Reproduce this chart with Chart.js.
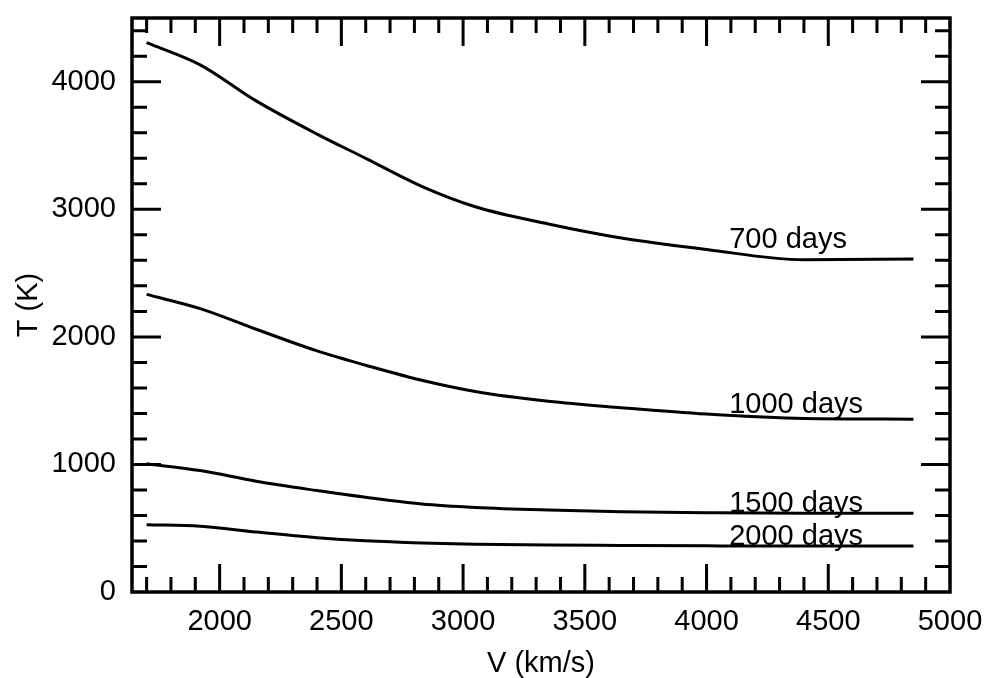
<!DOCTYPE html>
<html>
<head>
<meta charset="utf-8">
<script src="https://cdn.jsdelivr.net/npm/chart.js@4.4.1/dist/chart.umd.min.js"></script>
<style>
  body { margin: 0; background: #fff; }
  canvas { display: block; }
</style>
</head>
<body>
<canvas id="tempChart" width="989" height="678"></canvas>
<script>
// velocities (km/s) shared by all curves
const velocities = [1700, 1920, 2150, 2400, 2600, 2830, 3050, 3350, 3650, 4000, 4400, 4850];
const temp700 = [4307, 4133, 3850, 3590, 3400, 3180, 3020, 2885, 2775, 2685, 2605, 2610];
const temp1000 = [2333, 2222, 2060, 1890, 1778, 1660, 1572, 1495, 1445, 1395, 1360, 1355];
const temp1500 = [1005, 952, 868, 795, 742, 690, 663, 643, 630, 622, 617, 617];
const temp2000 = [528, 515, 470, 426, 401, 384, 375, 368, 365, 362, 360, 360];

const seriesNames = ['700 days', '1000 days', '1500 days', '2000 days'];
const seriesTemps = [temp700, temp1000, temp1500, temp2000];

const xTickLabels = [2000, 2500, 3000, 3500, 4000, 4500, 5000];
const yTickLabels = [0, 1000, 2000, 3000, 4000];

// where the curve names sit (data coords)
const labelV = 4093;
const labelT = [2700, 1400, 625, 365];

const FONT = '"Liberation Sans", Arial, Helvetica, sans-serif';

// inward ticks on all four sides + the box + curve names
const frameTicks = {
  id: 'frameTicks',
  afterDatasetsDraw(chart) {
    const { ctx, chartArea: a, scales: { x, y } } = chart;
    ctx.save();
    ctx.strokeStyle = '#000';
    ctx.lineWidth = 3;
    ctx.beginPath();
    for (let v = 1700; v < 5000; v += 100) {
      const px = x.getPixelForValue(v);
      const len = v % 500 === 0 ? 28 : 15;
      ctx.moveTo(px, a.bottom); ctx.lineTo(px, a.bottom - len);
      ctx.moveTo(px, a.top); ctx.lineTo(px, a.top + len);
    }
    for (let t = 200; t < 4500; t += 200) {
      const py = y.getPixelForValue(t);
      const len = t % 1000 === 0 ? 29 : 15;
      ctx.moveTo(a.left, py); ctx.lineTo(a.left + len, py);
      ctx.moveTo(a.right, py); ctx.lineTo(a.right - len, py);
    }
    ctx.stroke();
    ctx.lineWidth = 3.5;
    ctx.strokeRect(a.left, a.top, a.right - a.left, a.bottom - a.top);

    ctx.font = '29px ' + FONT;
    ctx.fillStyle = '#000';
    ctx.textAlign = 'left';
    ctx.textBaseline = 'alphabetic';
    seriesNames.forEach((name, i) => {
      ctx.fillText(name, x.getPixelForValue(labelV), y.getPixelForValue(labelT[i]));
    });
    ctx.restore();
  }
};

const ctx = document.getElementById('tempChart').getContext('2d');
new Chart(ctx, {
  type: 'scatter',
  data: {
    datasets: seriesNames.map((name, i) => ({
      label: name,
      data: velocities.map((v, j) => ({ x: v, y: seriesTemps[i][j] })),
      showLine: true,
      borderColor: '#000',
      borderWidth: 3,
      pointRadius: 0,
      cubicInterpolationMode: 'monotone'
    }))
  },
  options: {
    responsive: false,
    animation: false,
    layout: { padding: { top: 18, right: 39, left: 0, bottom: 0 } },
    plugins: {
      legend: { display: false },
      tooltip: { enabled: false }
    },
    scales: {
      x: {
        type: 'linear',
        min: 1640,
        max: 5000,
        afterBuildTicks: (s) => { s.ticks = xTickLabels.map(v => ({ value: v })); },
        afterFit: (s) => {
          s.height = 86;
          s.paddingLeft = 0;
          s.paddingRight = 0;
        },
        grid: { display: false, drawTicks: false },
        border: { display: false },
        ticks: {
          autoSkip: false,
          maxRotation: 0,
          padding: 13,
          color: '#000',
          font: { family: FONT, size: 29 },
          callback: (v) => String(v)
        },
        title: {
          display: true,
          text: 'V (km/s)',
          color: '#000',
          padding: { top: 0, bottom: 0 },
          font: { family: FONT, size: 29, lineHeight: 1 }
        }
      },
      y: {
        type: 'linear',
        min: 0,
        max: 4500,
        afterBuildTicks: (s) => { s.ticks = yTickLabels.map(v => ({ value: v })); },
        afterFit: (s) => {
          s.width = 132;
          s.paddingTop = 0;
          s.paddingBottom = 0;
        },
        grid: { display: false, drawTicks: false },
        border: { display: false },
        ticks: {
          autoSkip: false,
          padding: 16,
          color: '#000',
          font: { family: FONT, size: 29 },
          callback: (v) => String(v)
        },
        title: {
          display: true,
          text: 'T (K)',
          color: '#000',
          padding: { top: 14, bottom: 0 },
          font: { family: FONT, size: 29, lineHeight: 1 }
        }
      }
    }
  },
  plugins: [frameTicks]
});
</script>
</body>
</html>
